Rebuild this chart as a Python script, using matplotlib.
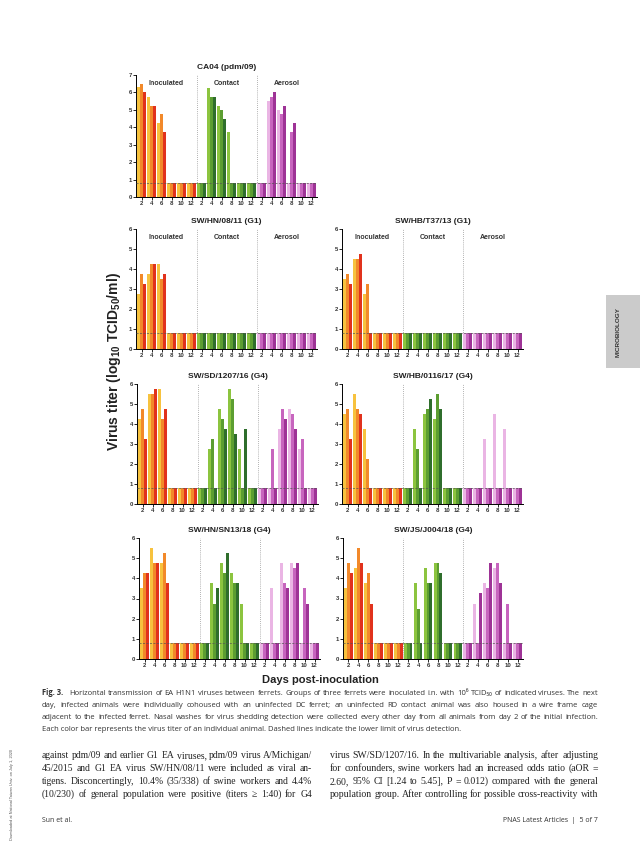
import numpy as np
import matplotlib.pyplot as plt
from matplotlib.patches import Rectangle

plt.rcParams['font.family'] = ['Liberation Sans', 'DejaVu Sans']
plt.rcParams['mathtext.fontset'] = 'custom'
plt.rcParams['mathtext.rm'] = 'Liberation Sans:bold'
plt.rcParams['mathtext.it'] = 'Liberation Sans:bold'
plt.rcParams['mathtext.bf'] = 'Liberation Sans:bold'

days = [2, 4, 6, 8, 10, 12]
groups = ['Inoculated', 'Contact', 'Aerosol']
L = 0.8  # lower limit of detection

# rows = days 2..12, cols = three animals (light, mid, dark)
ca04_inoc = [[6.3, 6.5, 6.0], [5.75, 5.25, 5.25], [4.25, 4.75, 3.75], [L, L, L], [L, L, L], [L, L, L]]
ca04_cont = [[L, L, L], [6.25, 5.75, 5.75], [5.25, 5.0, 4.5], [3.75, L, L], [L, L, L], [L, L, L]]
ca04_aero = [[L, L, L], [5.5, 5.75, 6.0], [5.0, 4.75, 5.25], [L, 3.75, 4.25], [L, L, L], [L, L, L]]

hn08_inoc = [[2.75, 3.75, 3.25], [3.75, 4.25, 4.25], [4.25, 3.5, 3.75], [L, L, L], [L, L, L], [L, L, L]]
hn08_cont = [[L, L, L]] * 6
hn08_aero = [[L, L, L]] * 6

hb37_inoc = [[3.5, 3.75, 3.25], [4.5, 4.5, 4.75], [2.75, 3.25, L], [L, L, L], [L, L, L], [L, L, L]]
hb37_cont = [[L, L, L]] * 6
hb37_aero = [[L, L, L]] * 6

sd1207_inoc = [[4.25, 4.75, 3.25], [5.5, 5.5, 5.75], [5.75, 4.25, 4.75], [L, L, L], [L, L, L], [L, L, L]]
sd1207_cont = [[L, L, L], [2.75, 3.25, L], [4.75, 4.25, 3.75], [5.75, 5.25, 3.5], [2.75, L, 3.75], [L, L, L]]
sd1207_aero = [[L, L, L], [L, 2.75, L], [3.75, 4.75, 4.25], [4.75, 4.5, 3.75], [2.75, 3.25, L], [L, L, L]]

hb0116_inoc = [[4.5, 4.75, 3.25], [5.5, 4.75, 4.5], [3.75, 2.25, L], [L, L, L], [L, L, L], [L, L, L]]
hb0116_cont = [[L, L, L], [3.75, 2.75, L], [4.5, 4.75, 5.25], [4.25, 5.5, 4.75], [L, L, L], [L, L, L]]
hb0116_aero = [[L, L, L], [L, L, L], [3.25, L, L], [4.5, L, L], [3.75, L, L], [L, L, L]]

sn13_inoc = [[3.5, 4.25, 4.25], [5.5, 4.75, 4.75], [4.75, 5.25, 3.75], [L, L, L], [L, L, L], [L, L, L]]
sn13_cont = [[L, L, L], [3.75, 2.75, 3.5], [4.75, 4.25, 5.25], [4.25, 3.75, 3.75], [2.75, L, L], [L, L, L]]
sn13_aero = [[L, L, L], [3.5, L, L], [4.75, 3.75, 3.5], [4.75, 4.5, 4.75], [L, 3.5, 2.75], [L, L, L]]

j004_inoc = [[3.5, 4.75, 4.25], [4.5, 5.5, 4.75], [3.75, 4.25, 2.75], [L, L, L], [L, L, L], [L, L, L]]
j004_cont = [[L, L, L], [3.75, 2.5, L], [4.5, 3.75, 3.75], [4.75, 4.75, 4.25], [L, L, L], [L, L, L]]
j004_aero = [[L, L, L], [2.75, L, 3.25], [3.75, 3.5, 4.75], [4.5, 4.75, 3.75], [L, 2.75, L], [L, L, L]]

colors = [
    ['#F7C23E', '#F2892A', '#E1321D'],
    ['#8CC43F', '#5C9E31', '#2F6E2C'],
    ['#EAB5E4', '#C765BE', '#9E3396'],
]

panels = [
    ('CA04 (pdm/09)', 7, [ca04_inoc, ca04_cont, ca04_aero], True, [136, 75, 317, 197]),
    ('SW/HN/08/11 (G1)', 6, [hn08_inoc, hn08_cont, hn08_aero], True, [136, 229, 317, 349]),
    ('SW/HB/T37/13 (G1)', 6, [hb37_inoc, hb37_cont, hb37_aero], True, [342, 229, 523, 349]),
    ('SW/SD/1207/16 (G4)', 6, [sd1207_inoc, sd1207_cont, sd1207_aero], False, [137, 384, 318, 504]),
    ('SW/HB/0116/17 (G4)', 6, [hb0116_inoc, hb0116_cont, hb0116_aero], False, [342, 384, 523, 504]),
    ('SW/HN/SN13/18 (G4)', 6, [sn13_inoc, sn13_cont, sn13_aero], False, [139, 538, 320, 659]),
    ('SW/JS/J004/18 (G4)', 6, [j004_inoc, j004_cont, j004_aero], False, [343, 538, 523, 659]),
]

W, H = 640, 856
fig = plt.figure(figsize=(W / 100, H / 100), dpi=100)


def px_axes(x0, y0, x1, y1):
    return fig.add_axes([x0 / W, 1 - y1 / H, (x1 - x0) / W, (y1 - y0) / H])


def draw_panel(title, ymax, data, show_groups, box):
    ax = px_axes(*box)
    w = 0.29
    for g, grp in enumerate(data):
        vals = np.array(grp)
        centers = g * 6 + np.arange(len(days))
        for k in range(3):
            ax.bar(centers + (k - 1) * w, vals[:, k], width=w, color=colors[g][k],
                   edgecolor='none', zorder=2)
    ax.axhline(L, ls=(0, (3, 2)), color='#555555', lw=0.5, zorder=3)
    for xd in (5.5, 11.5):
        ax.axvline(xd, ls=(0, (1, 1.5)), color='#999999', lw=0.6, zorder=1)
    ax.set_xlim(-0.55, 17.55)
    ax.set_ylim(0, ymax)
    ax.set_xticks(np.arange(18))
    ax.set_xticklabels([str(d) for d in days] * 3, fontsize=4.3, fontweight='bold', color='#333333')
    ax.set_yticks(range(ymax + 1))
    ax.set_yticklabels([str(v) for v in range(ymax + 1)], fontsize=4.3, fontweight='bold', color='#333333')
    ax.tick_params(length=2, width=0.6, pad=1)
    for s in ('top', 'right'):
        ax.spines[s].set_visible(False)
    for s in ('left', 'bottom'):
        ax.spines[s].set_linewidth(0.7)
    ax.set_title(title, fontsize=6, fontweight='bold', pad=4, color='#222222')
    if show_groups:
        for g, name in enumerate(groups):
            ax.text(g * 6 + 2.5, ymax * 0.93, name, ha='center', va='center',
                    fontsize=5, fontweight='bold', color='#333333')
    return ax


for p in panels:
    draw_panel(*p)

fig.text(114 / W, 1 - 362 / H, 'Virus titer (log$_{10}$ TCID$_{50}$/ml)', rotation=90,
         ha='center', va='center', fontsize=10, fontweight='bold', color='#222222')
fig.text(320 / W, 1 - 680 / H, 'Days post-inoculation', ha='center', va='center',
         fontsize=8, fontweight='bold', color='#222222')

# side tab and margin note
fig.patches.append(Rectangle((606 / W, 1 - 368 / H), 34 / W, 73 / H, transform=fig.transFigure,
                             facecolor='#CBCBCB', edgecolor='none'))
fig.text(618 / W, 1 - 332 / H, 'MICROBIOLOGY', rotation=90, ha='center', va='center',
         fontsize=4.6, fontweight='bold', color='#333333')
fig.text(12 / W, 1 - 795 / H, 'Downloaded at National Taiwan Univ. on July 1, 2020', rotation=90,
         ha='center', va='center', fontsize=2.8, color='#555555')

caption = [
    'Fig.\u00a03.\u2002 Horizontal transmission of EA H1N1 viruses between ferrets. Groups of three ferrets were inoculated i.n. with 10\u2076 TCID\u2085\u2080 of indicated viruses. The next',
    'day, infected animals were individually cohoused with an uninfected DC ferret; an uninfected RD contact animal was also housed in a wire frame cage',
    'adjacent to the infected ferret. Nasal washes for virus shedding detection were collected every other day from all animals from day 2 of the initial infection.',
    'Each color bar represents the virus titer of an individual animal. Dashed lines indicate the lower limit of virus detection.',
]
left_col = [
    'against pdm/09 and earlier G1 EA viruses, pdm/09 virus A/Michigan/',
    '45/2015 and G1 EA virus SW/HN/08/11 were included as viral an-',
    'tigens. Disconcertingly, 10.4% (35/338) of swine workers and 4.4%',
    '(10/230) of general population were positive (titers \u2265 1:40) for G4',
]
right_col = [
    'virus SW/SD/1207/16. In the multivariable analysis, after adjusting',
    'for confounders, swine workers had an increased odds ratio (aOR =',
    '2.60, 95% CI [1.24 to 5.45], P = 0.012) compared with the general',
    'population group. After controlling for possible cross-reactivity with',
]

renderer = fig.canvas.get_renderer()


def fit_size(lines, width, **kw):
    t = fig.text(0, 0, '', fontsize=10, **kw)
    widest = 0
    for line in lines:
        t.set_text(line)
        widest = max(widest, t.get_window_extent(renderer).width)
    t.remove()
    return 10 * width / widest


def justify(lines, x0, x1, y0, dy, last_left=False, **kw):
    size = fit_size(lines, x1 - x0, **kw)
    for i, line in enumerate(lines):
        y = 1 - (y0 + i * dy) / H
        if last_left and i == len(lines) - 1:
            fig.text(x0 / W, y, line, va='baseline', ha='left', fontsize=size, **kw)
            continue
        words = line.split(' ')
        arts = []
        for wd in words:
            extra = {'fontweight': 'bold'} if wd.startswith('Fig.') else {}
            arts.append(fig.text(0, 0, wd, va='baseline', ha='left', fontsize=size, **kw, **extra))
        widths = [a.get_window_extent(renderer).width for a in arts]
        space = (x1 - x0 - sum(widths)) / max(len(words) - 1, 1)
        x = x0
        for a, wdt in zip(arts, widths):
            a.set_position((x / W, y))
            x += wdt + space


justify(caption, 42, 598, 695, 12, last_left=True,
        family=['Open Sans', 'DejaVu Sans'], color='#333333')
justify(left_col, 42, 312, 758, 13, family=['Liberation Serif', 'DejaVu Serif'], color='#222222')
justify(right_col, 330, 598, 758, 13, family=['Liberation Serif', 'DejaVu Serif'], color='#222222')

fig.text(42 / W, 1 - 822 / H, 'Sun et al.', fontsize=5, family=['Open Sans', 'DejaVu Sans'],
         va='baseline', color='#333333')
fig.text(598 / W, 1 - 822 / H, 'PNAS Latest Articles  |  5 of 7', fontsize=5, ha='right',
         family=['Open Sans', 'DejaVu Sans'], va='baseline', color='#333333')

fig.savefig('out.png', dpi=100, facecolor='white')
